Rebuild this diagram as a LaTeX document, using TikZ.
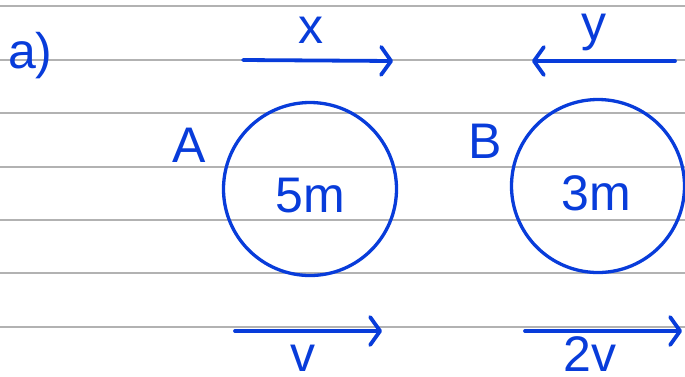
\documentclass[tikz,border=0pt]{standalone}
\usepackage{fontspec}
\setmainfont{Liberation Sans}
\usetikzlibrary{arrows.meta}
\definecolor{ink}{RGB}{8,60,218}
\definecolor{ruled}{RGB}{178,178,178}
\begin{document}
\begin{tikzpicture}[x=1pt, y=-1pt,
  every node/.style={font=\fontsize{50}{52}\selectfont, text=ink, inner sep=0pt},
  inkline/.style={draw=ink, line width=3.8pt, line cap=round},
  barb/.style={-{Straight Barb[round, length=10pt, width=28pt]}},
  ball/.style={circle, draw=ink, line width=3.3pt, minimum size=173pt}]
  \useasboundingbox (0,0) rectangle (685,376);
  \foreach \y in {6,60,113,167,220,273,327}
    \draw[ruled, line width=1.8pt] (0,\y) -- (685,\y);
  % part label
  \node[anchor=base west] (part) at (8,68) {a)};
  % the two balls
  \node[ball] (ballA) at (310,189) {};
  \node[ball] (ballB) at (598,186) {};
  \node[anchor=base] (nameA) at (189,162) {A};
  \node[anchor=base] (nameB) at (485,158) {B};
  \node[anchor=base] (massA) at (310,212) {5m};
  \node[anchor=base] (massB) at (596,210) {3m};
  % velocities before
  \coordinate (xtail) at (243,60);
  \coordinate (xhead) at (393,61);
  \coordinate (ytail) at (675,61);
  \coordinate (yhead) at (532,61);
  \draw[inkline, barb] (xtail) -- (xhead);
  \draw[inkline, barb] (ytail) -- (yhead);
  \node[anchor=base] (xlab) at (311,43) {x};
  \node[anchor=base] (ylab) at (594,40) {y};
  % velocities after
  \coordinate (vtail) at (235,331);
  \coordinate (vhead) at (382,331);
  \coordinate (wtail) at (525,331);
  \coordinate (whead) at (682,331);
  \draw[inkline, barb] (vtail) -- (vhead);
  \draw[inkline, barb] (wtail) -- (whead);
  \node[anchor=base] (vlab) at (303,371) {v};
  \node[anchor=base] (wlab) at (590,371) {2v};
\end{tikzpicture}
\end{document}
